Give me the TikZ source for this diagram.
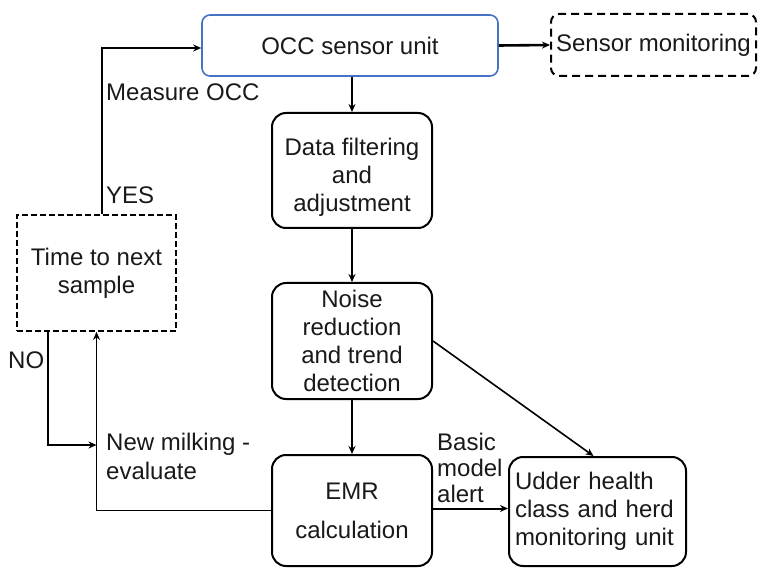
\documentclass[tikz,border=0pt]{standalone}
\usepackage{fontspec}
\setmainfont{Liberation Sans}
\usetikzlibrary{arrows.meta}
\definecolor{occblue}{RGB}{68,114,196}
\begin{document}
\begin{tikzpicture}[x=1pt,y=-1pt,
  every node/.style={font=\fontsize{24}{28}\selectfont, text=black!90},
  box/.style={draw, rounded corners=14pt, line width=2pt, align=center, inner sep=0pt},
  lbl/.style={inner sep=0pt, align=left, anchor=west},
  conn/.style={line width=1.6pt, -{Stealth[length=8pt,width=7pt]}},
  plain/.style={line width=1.6pt}
]
\useasboundingbox (0,0) rectangle (758,569);

% nodes
\node[box, draw=occblue, rounded corners=8pt, line width=1.6pt,
      minimum width=296pt, minimum height=61pt] (occ) at (350,45.5) {OCC sensor unit};
\node[box, dashed, dash pattern=on 8pt off 5pt, rounded corners=8pt,
      minimum width=205pt, minimum height=62pt] (sensor) at (653.5,45) {Sensor monitoring};
\node[box, minimum width=160pt, minimum height=115pt] (data) at (352,170.5)
      {\rule{0pt}{31.5pt}Data filtering\\and\\adjustment};
\node[box, minimum width=160pt, minimum height=116pt] (noise) at (352,341)
      {Noise\\reduction\\and trend\\detection};
\node[box, minimum width=160pt, minimum height=111pt] (emr) at (352,510.5)
      {EMR\\[11pt]calculation};
\node[box, align=left, text width=165pt, minimum width=177pt, minimum height=109pt] (udder) at (597.5,511.5)
      {Udder health\\class and herd\\monitoring unit};
\node[box, rounded corners=0pt, dashed, dash pattern=on 6pt off 3pt, line width=1.8pt,
      minimum width=159pt, minimum height=116pt] (time) at (96.5,273)
      {Time to next\\sample};

% labels
\node[lbl] (measure) at (106,92) {Measure OCC};
\node[lbl] (yes) at (106,195) {YES};
\node[lbl] (no) at (8,360) {NO};
\node[lbl, font=\fontsize{24}{29}\selectfont] (newmilk) at (106,456.5) {New milking -\\evaluate};
\node[lbl, font=\fontsize{24}{26}\selectfont] (alert) at (437,468) {Basic\\model\\alert};

% coordinates
\coordinate (yesstart) at ([xshift=5.5pt]time.north);
\coordinate (nostart) at ([xshift=32pt]time.south west);
\coordinate (noend) at (time.south |- 0,445);

% connectors
\draw[conn, line width=2.6pt, -{Stealth[length=8pt,width=7pt]}] (occ.east) -- (sensor.west);
\draw[conn] (occ.south -| data.north) -- (data.north);
\draw[conn] (data.south) -- (noise.north);
\draw[conn] (noise.south) -- (emr.north);
\draw[conn] (noise.east) -- ([xshift=-4pt]udder.north);
\draw[conn, line width=2pt] ([yshift=2pt]emr.east) -- ([yshift=2pt]emr.east -| udder.west);
\draw[conn] (emr.west) -| (time.south);
\draw[conn] (nostart) |- (noend);
\draw[conn] (yesstart) |- ([yshift=-2.5pt]occ.west);
\end{tikzpicture}
\end{document}
